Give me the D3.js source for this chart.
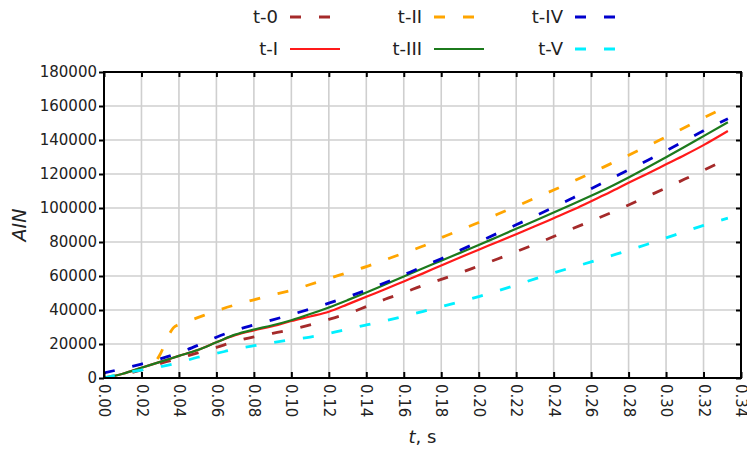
<!DOCTYPE html>
<html>
<head>
<meta charset="utf-8">
<script src="https://cdn.jsdelivr.net/npm/d3@7"></script>
<style>
  html, body { margin: 0; padding: 0; background: #fff; }
  svg { display: block; font-family: "DejaVu Sans", Verdana, sans-serif; }
</style>
</head>
<body>
<svg id="chart" width="747" height="453"></svg>
<script>
// Time samples (s) shared by most series
const times = [0, 0.01, 0.02, 0.03, 0.04, 0.05, 0.06, 0.07, 0.08, 0.09, 0.10,
  0.11, 0.12, 0.13, 0.14, 0.15, 0.16, 0.17, 0.18, 0.19, 0.20, 0.21, 0.22,
  0.23, 0.24, 0.25, 0.26, 0.27, 0.28, 0.29, 0.30, 0.31, 0.32, 0.333];

// t-II has a steep rise around 0.03 s, so it gets denser samples there
const timesII = [0, 0.01, 0.02, 0.026, 0.03, 0.034, 0.037, 0.04, 0.045, 0.05,
  0.06, 0.07, 0.08, 0.09, 0.10, 0.11, 0.12, 0.13, 0.14, 0.15, 0.16, 0.17,
  0.18, 0.19, 0.20, 0.21, 0.22, 0.23, 0.24, 0.25, 0.26, 0.27, 0.28, 0.29,
  0.30, 0.31, 0.32, 0.333];

const valuesT0 = [0, 2000, 4800, 8500, 11500, 14800, 18000, 21500, 24200, 26300,
  28500, 31200, 34500, 37800, 42000, 46300, 50200, 54300, 58000, 61800, 65900,
  70000, 74300, 78700, 83200, 87800, 92300, 96900, 101800, 106800, 111800,
  117000, 122200, 129000];

const valuesTI = [0, 2500, 6000, 9500, 13000, 16500, 21000, 25200, 28000, 30500,
  33500, 36200, 39000, 43300, 47800, 52200, 56800, 61400, 66200, 70900, 75500,
  80000, 84600, 89200, 94000, 98800, 104000, 109200, 114800, 120200, 125700,
  131200, 137000, 145300];

const valuesTII = [0, 2500, 5500, 8000, 14000, 24000, 29500, 31500, 33500, 35500,
  39500, 43000, 46000, 49000, 51500, 55000, 58500, 62000, 65500, 69500, 73500,
  77500, 82500, 87000, 91500, 96300, 101000, 105800, 110600, 115500, 120600,
  125800, 131000, 136400, 141800, 147300, 153000, 160000];

const valuesTIII = [0, 2500, 6000, 9500, 13000, 16500, 21000, 25500, 28500, 31000,
  34000, 37600, 41500, 45800, 50300, 55000, 59700, 64400, 69000, 73600, 78200,
  83000, 87800, 92500, 97300, 102200, 107200, 112400, 118000, 123800, 129800,
  136000, 142300, 150400];

const valuesTIV = [3000, 5500, 8200, 11200, 14800, 19200, 24000, 28000, 31200,
  34200, 37300, 40600, 44000, 47700, 51700, 56000, 60700, 65400, 70200, 75100,
  80100, 85100, 90100, 95200, 100400, 105800, 111300, 116900, 122400, 128000,
  133700, 139500, 145400, 152500];

const valuesTV = [0, 2600, 4700, 6700, 9000, 12200, 14500, 17000, 19000, 20800,
  22600, 24100, 26200, 28700, 31200, 33700, 36300, 39100, 42000, 44900, 47900,
  51200, 54700, 58300, 61800, 65100, 68300, 71700, 75100, 78700, 82400, 86100,
  89800, 94000];

const seriesNames = ["t-0", "t-I", "t-II", "t-III", "t-IV", "t-V"];
const seriesColors = ["#a52a2a", "#ff1a1a", "#ffa500", "#1c7a1c", "#0000cd", "#00f0ff"];
const seriesDashed = [true, false, true, false, true, true];
const seriesTimes = [times, times, timesII, times, times, times];
const seriesValues = [valuesT0, valuesTI, valuesTII, valuesTIII, valuesTIV, valuesTV];

const xTicks = [0, 0.02, 0.04, 0.06, 0.08, 0.10, 0.12, 0.14, 0.16, 0.18, 0.20,
  0.22, 0.24, 0.26, 0.28, 0.30, 0.32, 0.34];
const yTicks = [0, 20000, 40000, 60000, 80000, 100000, 120000, 140000, 160000, 180000];

// Legend layout: three columns, two rows (order follows series)
const legendRow = [0, 1, 0, 1, 0, 1];
const legendColIdx = [0, 0, 1, 1, 2, 2];

const svg = d3.select("#chart");
const plot = { left: 104, right: 741, top: 72, bottom: 378 };

const x = d3.scaleLinear().domain([0, 0.34]).range([plot.left, plot.right]);
const y = d3.scaleLinear().domain([0, 180000]).range([plot.bottom, plot.top]);

// Grid
const grid = svg.append("g").attr("stroke", "#cfcfcf").attr("stroke-width", 1.6);
grid.selectAll("line.v").data(xTicks.slice(1, -1)).join("line")
  .attr("x1", d => x(d)).attr("x2", d => x(d))
  .attr("y1", plot.top).attr("y2", plot.bottom);
grid.selectAll("line.h").data(yTicks.slice(1, -1)).join("line")
  .attr("x1", plot.left).attr("x2", plot.right)
  .attr("y1", d => y(d)).attr("y2", d => y(d));

// Clip for series
svg.append("clipPath").attr("id", "clip").append("rect")
  .attr("x", plot.left).attr("y", plot.top)
  .attr("width", plot.right - plot.left).attr("height", plot.bottom - plot.top);

const line = d3.line().x(d => x(d[0])).y(d => y(d[1])).curve(d3.curveMonotoneX);

const seriesG = svg.append("g").attr("clip-path", "url(#clip)");
seriesNames.forEach((name, i) => {
  const pts = seriesTimes[i].map((t, k) => [t, seriesValues[i][k]]);
  seriesG.append("path")
    .datum(pts)
    .attr("fill", "none")
    .attr("stroke", seriesColors[i])
    .attr("stroke-width", seriesDashed[i] ? 2.8 : 2.2)
    .attr("stroke-dasharray", seriesDashed[i] ? "11,18" : null)
    .attr("d", line);
});

// Axes
const fontTick = "15px";
const axL = svg.append("g").attr("transform", `translate(${plot.left},0)`)
  .call(d3.axisLeft(y).tickValues(yTicks).tickFormat(d3.format("d")).tickSize(5).tickPadding(2));
const axB = svg.append("g").attr("transform", `translate(0,${plot.bottom})`)
  .call(d3.axisBottom(x).tickValues(xTicks).tickFormat(d3.format(".2f")).tickSize(-6));
const axT = svg.append("g").attr("transform", `translate(0,${plot.top})`)
  .call(d3.axisTop(x).tickValues(xTicks).tickFormat("").tickSize(-5));
const axR = svg.append("g").attr("transform", `translate(${plot.right},0)`)
  .call(d3.axisRight(y).tickValues(yTicks).tickFormat("").tickSize(-5));

[axL, axB, axT, axR].forEach(g => {
  g.select(".domain").remove();
  g.selectAll(".tick line").attr("stroke", "#000").attr("stroke-width", 2);
  g.selectAll("text").attr("font-size", fontTick).attr("fill", "#222")
    .attr("font-family", "'DejaVu Sans', Verdana, sans-serif");
});

axB.selectAll(".tick text")
  .attr("transform", "rotate(90)")
  .attr("text-anchor", "start")
  .attr("dy", "0.36em")
  .attr("x", 6)
  .attr("y", 0);

// Frame
svg.append("rect")
  .attr("x", plot.left).attr("y", plot.top)
  .attr("width", plot.right - plot.left).attr("height", plot.bottom - plot.top)
  .attr("fill", "none").attr("stroke", "#000").attr("stroke-width", 2);

// Axis titles
svg.append("text")
  .attr("transform", `translate(26,${(plot.top + plot.bottom) / 2}) rotate(-90)`)
  .attr("text-anchor", "middle")
  .attr("font-size", "19px").attr("font-style", "italic").attr("fill", "#222")
  .text("AIN");

const xTitle = svg.append("text")
  .attr("x", (plot.left + plot.right) / 2).attr("y", 443)
  .attr("text-anchor", "middle")
  .attr("font-size", "18px").attr("fill", "#222");
xTitle.append("tspan").attr("font-style", "italic").text("t");
xTitle.append("tspan").text(", s");

// Legend
const colTextRight = [278, 422, 563];
const rowY = [17, 49];
const legend = svg.append("g");
seriesNames.forEach((name, i) => {
  const cx = colTextRight[legendColIdx[i]];
  const cy = rowY[legendRow[i]];
  legend.append("text")
    .attr("x", cx).attr("y", cy).attr("dy", "0.36em")
    .attr("text-anchor", "end")
    .attr("font-size", "18px").attr("fill", "#222")
    .text(name);
  legend.append("line")
    .attr("x1", cx + 12).attr("x2", cx + 62)
    .attr("y1", cy).attr("y2", cy)
    .attr("stroke", seriesColors[i])
    .attr("stroke-width", seriesDashed[i] ? 2.8 : 2.2)
    .attr("stroke-dasharray", seriesDashed[i] ? "11,18" : null);
});
</script>
</body>
</html>
